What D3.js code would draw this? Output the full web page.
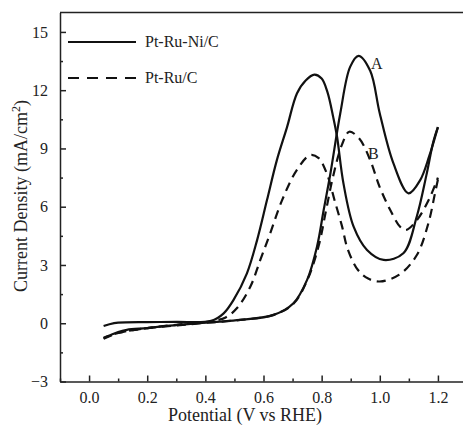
<!DOCTYPE html>
<html>
<head>
<meta charset="utf-8">
<script src="https://cdn.jsdelivr.net/npm/d3@7"></script>
<style>
    body { margin: 0; background: #fff; }
    svg text { font-family: "Times New Roman", "Liberation Serif", Times, "DejaVu Serif", serif !important; fill: #222; }
</style>
</head>
<body>
<svg id="chart" width="463" height="429"></svg>
<script>
// potential (V) / current density (mA/cm2)
// Pt-Ru-Ni/C, forward scan
const niFwdV = [0.05, 0.10, 0.13, 0.20, 0.245, 0.30, 0.40, 0.45, 0.52, 0.635, 0.703, 0.75, 0.784, 0.807, 0.83, 0.864, 0.898, 0.927, 0.967, 1.00, 1.047, 1.099, 1.139, 1.17, 1.20];
const niFwdJ = [-0.77, -0.45, -0.34, -0.25, -0.17, -0.10, 0.03, 0.08, 0.17, 0.43, 1.03, 2.23, 3.94, 5.83, 7.7, 10.8, 13.2, 13.77, 13.0, 10.8, 8.23, 6.69, 7.37, 8.6, 10.1];
// Pt-Ru-Ni/C, backward scan
const niBackV = [1.20, 1.185, 1.16, 1.127, 1.081, 1.013, 0.956, 0.91, 0.875, 0.853, 0.84, 0.82, 0.80, 0.775, 0.745, 0.715, 0.681, 0.646, 0.612, 0.578, 0.543, 0.497, 0.463, 0.42, 0.30, 0.20, 0.10, 0.07, 0.05];
const niBackJ = [10.1, 9.4, 7.6, 5.48, 3.6, 3.26, 3.77, 4.97, 7.2, 9.6, 10.6, 11.9, 12.6, 12.8, 12.5, 11.83, 10.1, 8.4, 6.34, 4.28, 2.57, 1.2, 0.51, 0.12, 0.07, 0.06, 0.03, -0.05, -0.14];
// Pt-Ru/C, forward scan
const ruFwdV = [0.05, 0.10, 0.20, 0.30, 0.40, 0.52, 0.635, 0.703, 0.75, 0.79, 0.815, 0.84, 0.87, 0.895, 0.93, 0.967, 1.00, 1.036, 1.07, 1.09, 1.127, 1.17, 1.20];
const ruFwdJ = [-0.8, -0.5, -0.25, -0.12, 0.02, 0.17, 0.43, 1.0, 2.2, 4.0, 5.8, 7.6, 9.2, 9.86, 9.5, 8.4, 7.0, 5.83, 4.97, 4.8, 5.3, 6.4, 7.5];
// Pt-Ru/C, backward scan
const ruBackV = [1.20, 1.19, 1.167, 1.127, 1.067, 1.00, 0.96, 0.925, 0.89, 0.87, 0.845, 0.818, 0.79, 0.761, 0.715, 0.664, 0.623, 0.589, 0.555, 0.509, 0.47, 0.42, 0.30, 0.20, 0.10, 0.05];
const ruBackJ = [7.4, 6.7, 5.14, 3.5, 2.5, 2.15, 2.3, 2.74, 3.8, 5.0, 6.3, 7.7, 8.5, 8.66, 7.9, 6.34, 4.63, 3.26, 1.89, 0.78, 0.3, 0.1, -0.08, -0.25, -0.5, -0.75];

const seriesNames = ['Pt-Ru-Ni/C', 'Pt-Ru/C'];
const xTicks = [0.0, 0.2, 0.4, 0.6, 0.8, 1.0, 1.2];
const yTicks = [-3, 0, 3, 6, 9, 12, 15];

const serif = '"Times New Roman", "Liberation Serif", Times, serif';
const svg = d3.select('#chart').attr('font-family', serif);

//scales
const x = d3.scaleLinear().domain([-0.1, 1.3]).range([60, 467]);
const y = d3.scaleLinear().domain([-3, 16]).range([381.5, 12.5]);

//axes, ticks point inward
const xAxis = svg.append('g')
    .attr('transform', 'translate(0,381.5)')
    .call(d3.axisBottom(x).tickValues(xTicks).tickSizeInner(-6).tickSizeOuter(0).tickPadding(10).tickFormat(d3.format('.1f')));
svg.append('g')
    .attr('transform', 'translate(0,381.5)')
    .call(d3.axisBottom(x).tickValues(d3.range(-0.1, 1.3, 0.2)).tickSizeInner(-3).tickSizeOuter(0).tickFormat(''))
    .select('.domain').remove();

const yAxis = svg.append('g')
    .attr('transform', 'translate(60,0)')
    .call(d3.axisLeft(y).tickValues(yTicks).tickSizeInner(-6).tickSizeOuter(0).tickPadding(12));
svg.append('g')
    .attr('transform', 'translate(60,0)')
    .call(d3.axisLeft(y).tickValues(d3.range(-1.5, 16, 3)).tickSizeInner(-3).tickSizeOuter(0).tickFormat(''))
    .select('.domain').remove();

svg.selectAll('g').attr('font-family', serif);
svg.selectAll('.tick line').attr('stroke', '#222').attr('stroke-width', 1.5);
svg.selectAll('.domain').attr('stroke', '#222').attr('stroke-width', 1.5);
xAxis.selectAll('text').attr('font-size', 16);
yAxis.selectAll('text').attr('font-size', 16);

// top frame line
svg.append('line')
    .attr('x1', x(-0.1)).attr('x2', 463)
    .attr('y1', y(16)).attr('y2', y(16))
    .attr('stroke', '#222').attr('stroke-width', 1.5);

//axis titles
svg.append('text')
    .attr('x', 245).attr('y', 421)
    .attr('text-anchor', 'middle')
    .attr('font-size', 18)
    .text('Potential (V vs RHE)');

const yt = svg.append('text')
    .attr('transform', 'translate(27,196) rotate(-90)')
    .attr('text-anchor', 'middle')
    .attr('font-size', 18);
yt.append('tspan').text('Current Density (mA/cm');
yt.append('tspan').attr('font-size', 12).attr('dy', -7).text('2');
yt.append('tspan').attr('dy', 7).text(')');

//curves
const line = d3.line()
    .x(d => x(d[0]))
    .y(d => y(d[1]))
    .curve(d3.curveCatmullRom.alpha(0.5));

const curves = [
    {v: niFwdV, j: niFwdJ, dash: null},
    {v: niBackV, j: niBackJ, dash: null},
    {v: ruFwdV, j: ruFwdJ, dash: '9,6'},
    {v: ruBackV, j: ruBackJ, dash: '9,6'}
];

curves.forEach(c => {
    svg.append('path')
        .datum(d3.zip(c.v, c.j))
        .attr('d', line)
        .attr('fill', 'none')
        .attr('stroke', '#111')
        .attr('stroke-width', 2.2)
        .attr('stroke-dasharray', c.dash);
});

//legend
const legend = svg.append('g');
seriesNames.forEach((name, i) => {
    const ly = 42 + i * 36;
    legend.append('line')
        .attr('x1', 68).attr('x2', 136)
        .attr('y1', ly).attr('y2', ly)
        .attr('stroke', '#111')
        .attr('stroke-width', 2.2)
        .attr('stroke-dasharray', i === 0 ? null : '11,8');
    legend.append('text')
        .attr('x', 145).attr('y', ly + 5)
        .attr('font-size', 16)
        .text(name);
});

//peak labels
svg.append('text').attr('x', 371).attr('y', 69).attr('font-size', 16).text('A');
svg.append('text').attr('x', 368).attr('y', 159).attr('font-size', 16).text('B');
</script>
</body>
</html>
